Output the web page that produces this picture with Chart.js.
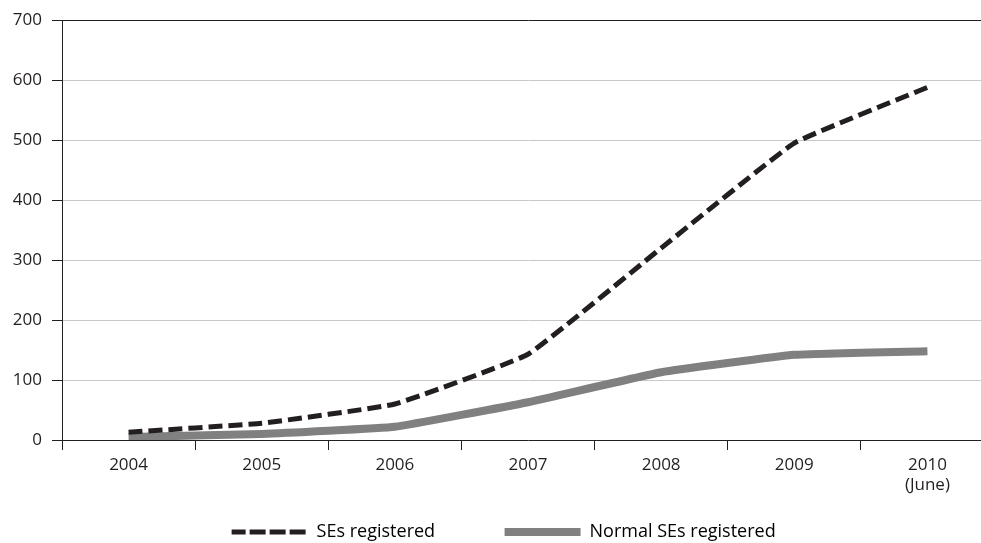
<!DOCTYPE html>
<html>
<head>
<meta charset="utf-8">
<script src="https://cdn.jsdelivr.net/npm/chart.js@4/dist/chart.umd.min.js"></script>
<style>
  html, body { margin: 0; padding: 0; background: #fff; overflow: hidden; }
  #wrap { position: relative; width: 994px; height: 543px; }
</style>
</head>
<body>
<div id="wrap"><canvas id="chart"></canvas></div>
<script>
// Chart data
const years = [['2004'], ['2005'], ['2006'], ['2007'], ['2008'], ['2009'], ['2010', '(June)']];
const sesRegistered = [13, 28, 60, 143, 320, 495, 588];
const normalSesRegistered = [5, 10, 22, 63, 113, 142, 148];
const yTicks = [0, 100, 200, 300, 400, 500, 600, 700];

const dark = '#231f20';
const tickFont = { family: 'Open Sans', size: 17 };
const legendFont = { family: 'Open Sans', size: 18 };

// nudge the legend a bit lower and to the right
const legendShift = {
  id: 'legendShift',
  afterLayout(chart) {
    const lg = chart.legend;
    lg.top += 8; lg.bottom += 8;
    lg.left += 16; lg.right += 16;
  }
};

new Chart(document.getElementById('chart'), {
  type: 'line',
  data: {
    labels: years,
    datasets: [
      {
        label: 'SEs registered',
        data: sesRegistered,
        borderColor: dark,
        backgroundColor: dark,
        borderWidth: 5,
        borderDash: [14, 6],
        pointRadius: 0,
        tension: 0.1
      },
      {
        label: 'Normal SEs registered',
        data: normalSesRegistered,
        borderColor: '#808080',
        backgroundColor: '#808080',
        borderWidth: 8,
        borderCapStyle: 'butt',
        pointRadius: 0,
        tension: 0.1
      }
    ]
  },
  options: {
    responsive: true,
    maintainAspectRatio: false,
    animation: false,
    layout: { padding: { top: 12, right: 0, left: 0, bottom: 0 } },
    plugins: {
      tooltip: { enabled: false },
      legend: {
        position: 'bottom',
        labels: {
          color: dark,
          font: legendFont,
          boxWidth: 76,
          boxHeight: 0,
          padding: 4,
          generateLabels(chart) {
            return chart.data.datasets.map((ds, i) => ({
              text: ds.label + (i === 0 ? '              ' : '    '),
              fillStyle: ds.borderColor,
              strokeStyle: ds.borderColor,
              lineWidth: ds.borderWidth,
              lineDash: ds.borderDash || [],
              lineCap: 'butt',
              datasetIndex: i
            }));
          }
        }
      }
    },
    scales: {
      x: {
        offset: true,
        grid: {
          offset: true,
          drawOnChartArea: false,
          tickLength: 10,
          tickColor: dark,
          tickWidth: 1
        },
        border: { color: dark, width: 1 },
        ticks: { color: dark, font: tickFont, padding: 5, maxRotation: 0 },
        afterFit(scale) { scale.height = 71; }
      },
      y: {
        min: 0,
        max: 700,
        afterBuildTicks(scale) { scale.ticks = yTicks.map(v => ({ value: v })); },
        grid: {
          color: ctx => (ctx.tick && ctx.tick.value === 700 ? dark : '#c8c8c8'),
          tickColor: dark,
          tickLength: 10,
          lineWidth: 1
        },
        border: { color: dark, width: 1 },
        ticks: { color: dark, font: tickFont, padding: 10 },
        afterFit(scale) { scale.width = 62; }
      }
    }
  },
  plugins: [legendShift]
});
</script>
</body>
</html>
